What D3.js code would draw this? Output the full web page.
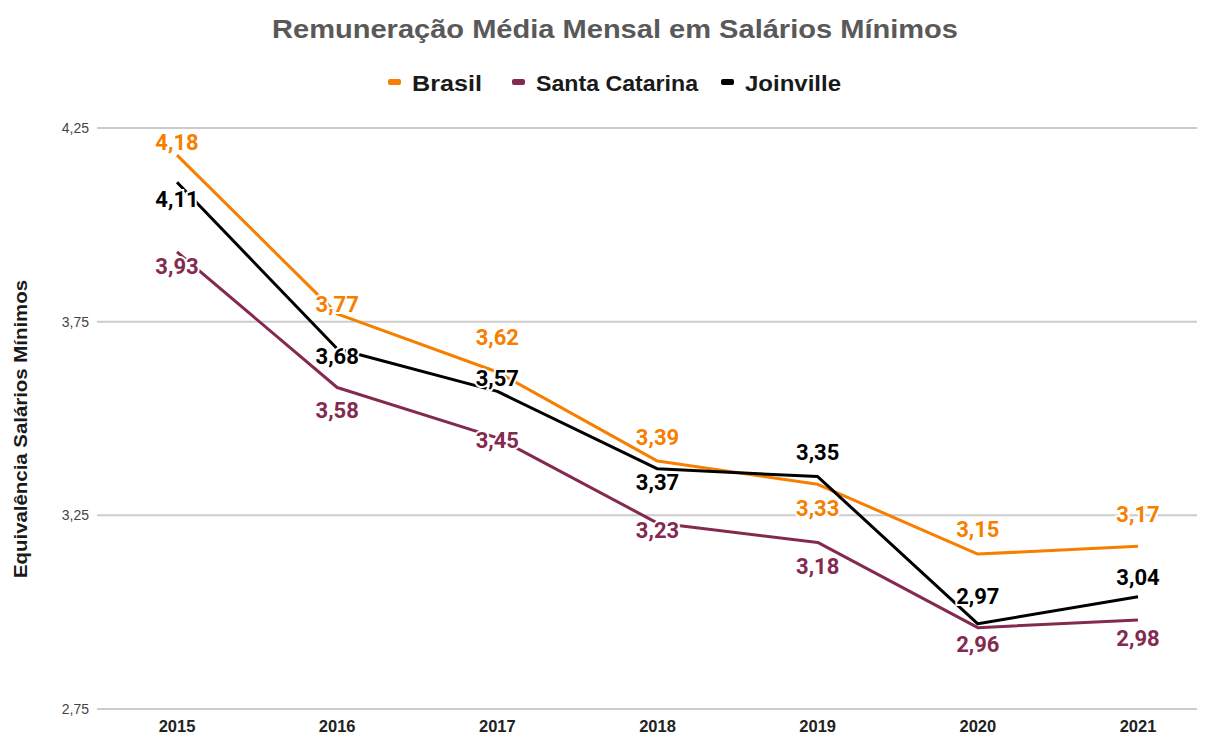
<!DOCTYPE html>
<html>
<head>
<meta charset="utf-8">
<script src="https://cdn.jsdelivr.net/npm/d3@7"></script>
<style>
  body { margin: 0; background: #fff; }
  svg { display: block; }
</style>
</head>
<body>
<div id="chart"></div>
<script>
//DATA
const years = ["2015", "2016", "2017", "2018", "2019", "2020", "2021"];
const brasil = [4.18, 3.77, 3.62, 3.39, 3.33, 3.15, 3.17];
const santaCatarina = [3.93, 3.58, 3.45, 3.23, 3.18, 2.96, 2.98];
const joinville = [4.11, 3.68, 3.57, 3.37, 3.35, 2.97, 3.04];
const yTicks = [2.75, 3.25, 3.75, 4.25];

// label offsets (px) from each point, as placed in the original
const brasilLabelDy = [-13, -9, -35, -24, 24, -25, -32];
const scLabelDy = [15, 23, 3, 7, 24, 17, 19];
const joinLabelDy = [17, 8, -13, 14, -24, -27, -19];

//COLORS
const COLORS = {
    brasil: "#f77f00",
    sc: "#84294f",
    joinville: "#000000"
};

const series = [
    { name: "Brasil", values: brasil, dy: brasilLabelDy, color: COLORS.brasil },
    { name: "Santa Catarina", values: santaCatarina, dy: scLabelDy, color: COLORS.sc },
    { name: "Joinville", values: joinville, dy: joinLabelDy, color: COLORS.joinville }
];

//INIT
const width = 1209;
const height = 735;
const margin = { top: 128, right: 12, bottom: 26, left: 97 };
const FONT = "Liberation Sans, Arial, sans-serif";

const svg = d3.select("#chart")
    .append("svg")
    .attr("width", width)
    .attr("height", height);

const x = d3.scalePoint()
    .domain(years)
    .range([177, 1138]);

const y = d3.scaleLinear()
    .domain([2.75, 4.25])
    .range([height - margin.bottom, margin.top]);

const fmt = v => d3.format(".2f")(v).replace(".", ",");

//TITLE
svg.append("text")
    .attr("x", 272)
    .attr("y", 38)
    .attr("font-family", FONT)
    .attr("font-weight", "bold")
    .attr("font-size", "26px")
    .attr("fill", "#595959")
    .attr("textLength", 686)
    .attr("lengthAdjust", "spacingAndGlyphs")
    .text("Remuneração Média Mensal em Salários Mínimos");

//LEGEND
const legendX = [388, 512, 721];
const legendW = [70, 162, 96];
const legend = svg.append("g")
    .selectAll("g")
    .data(series)
    .enter()
    .append("g")
    .attr("transform", (d, i) => `translate(${legendX[i]},82)`);

legend.append("rect")
    .attr("x", 0)
    .attr("y", -3)
    .attr("width", 13)
    .attr("height", 6)
    .attr("rx", 2)
    .attr("fill", d => d.color);

legend.append("text")
    .attr("x", 24)
    .attr("y", 1)
    .attr("dominant-baseline", "central")
    .attr("font-family", FONT)
    .attr("font-weight", "bold")
    .attr("font-size", "22px")
    .attr("fill", "#1a1a1a")
    .attr("textLength", (d, i) => legendW[i])
    .attr("lengthAdjust", "spacingAndGlyphs")
    .text(d => d.name);

//GRID
const grid = svg.append("g");
grid.selectAll("line")
    .data(yTicks)
    .enter()
    .append("line")
    .attr("x1", margin.left)
    .attr("x2", width - margin.right)
    .attr("y1", d => y(d))
    .attr("y2", d => y(d))
    .attr("stroke", "#cccccc")
    .attr("stroke-width", 2);

grid.selectAll("text")
    .data(yTicks)
    .enter()
    .append("text")
    .attr("x", 89)
    .attr("y", d => y(d))
    .attr("text-anchor", "end")
    .attr("dominant-baseline", "central")
    .attr("font-family", FONT)
    .attr("font-size", "14px")
    .attr("fill", "#444")
    .text(d => fmt(d));

//X AXIS
svg.append("g")
    .selectAll("text")
    .data(years)
    .enter()
    .append("text")
    .attr("x", d => x(d))
    .attr("y", 726)
    .attr("text-anchor", "middle")
    .attr("dominant-baseline", "central")
    .attr("font-family", FONT)
    .attr("font-weight", "bold")
    .attr("font-size", "16.5px")
    .attr("fill", "#222")
    .text(d => d);

//Y AXIS TITLE
svg.append("text")
    .attr("transform", "translate(20,429) rotate(-90)")
    .attr("text-anchor", "middle")
    .attr("dominant-baseline", "central")
    .attr("font-family", FONT)
    .attr("font-weight", "bold")
    .attr("font-size", "19px")
    .attr("fill", "#1a1a1a")
    .attr("textLength", 298)
    .attr("lengthAdjust", "spacingAndGlyphs")
    .text("Equivalência Salários Mínimos");

//LINES
const line = d3.line()
    .x((d, i) => x(years[i]))
    .y(d => y(d));

svg.append("g")
    .selectAll("path")
    .data(series)
    .enter()
    .append("path")
    .attr("d", d => line(d.values))
    .attr("fill", "none")
    .attr("stroke", d => d.color)
    .attr("stroke-width", 3)
    .attr("stroke-linejoin", "round");

//LABELS
const labels = svg.append("g");
series.forEach(s => {
    labels.selectAll(null)
        .data(s.values)
        .enter()
        .append("text")
        .attr("x", (d, i) => x(years[i]))
        .attr("y", (d, i) => y(d) + s.dy[i])
        .attr("text-anchor", "middle")
        .attr("dominant-baseline", "central")
        .attr("font-family", "Roboto, sans-serif")
        .attr("font-weight", "bold")
        .attr("font-size", "22px")
        .attr("fill", s.color)
        .attr("stroke", "#fff")
        .attr("stroke-width", 4)
        .attr("paint-order", "stroke")
        .text(d => fmt(d));
});
</script>
</body>
</html>
